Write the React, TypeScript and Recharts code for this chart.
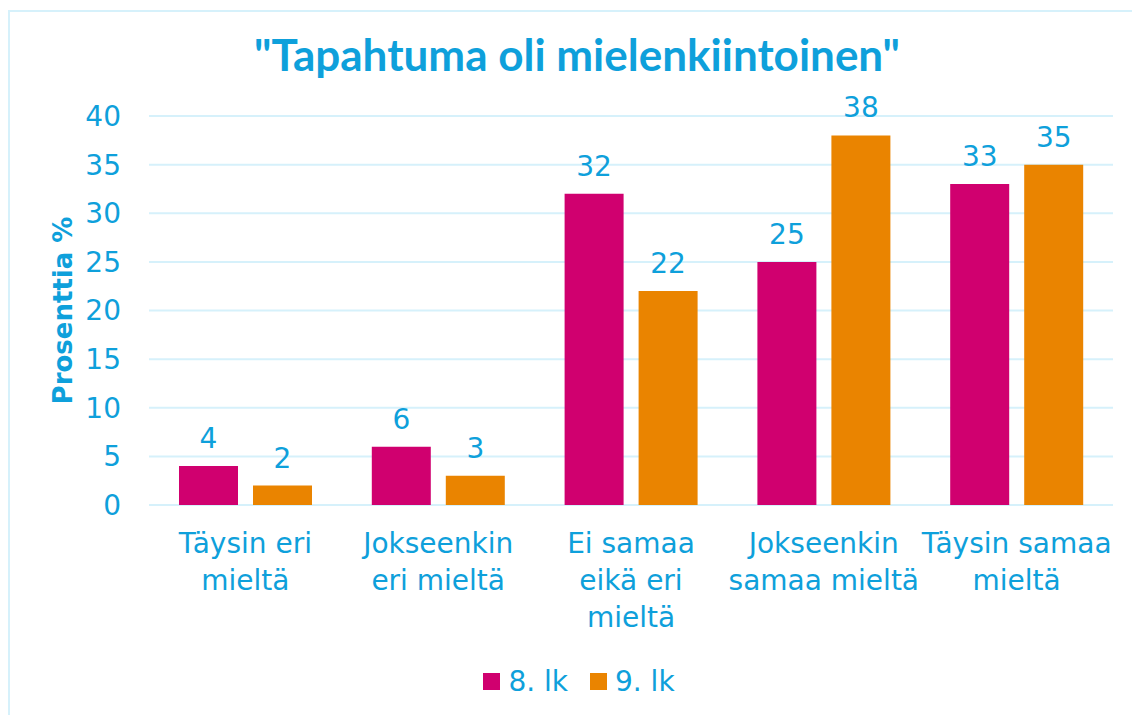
import { BarChart, Bar, XAxis, YAxis, CartesianGrid, Legend, LabelList } from 'recharts';

const categories = [
  'Täysin eri\nmieltä',
  'Jokseenkin\neri mieltä',
  'Ei samaa\neikä eri\nmieltä',
  'Jokseenkin\nsamaa mieltä',
  'Täysin samaa\nmieltä',
];
const grade8 = [4, 6, 32, 25, 33];
const grade9 = [2, 3, 22, 38, 35];
const seriesNames = ['8. lk', '9. lk'];
const yTicks = [0, 5, 10, 15, 20, 25, 30, 35, 40];

const BLUE = '#0EA0DB';
const MAGENTA = '#D0006F';
const ORANGE = '#EA8400';
const GRID = '#D6F1FB';
const FONT = '"DejaVu Sans", sans-serif';

const data = categories.map((name, i) => ({ name, g8: grade8[i], g9: grade9[i] }));

function CategoryTick({ x, y, payload }: any) {
  const lines = String(payload.value).split('\n');
  return (
    <text x={x} y={y} textAnchor="middle" fill={BLUE} fontSize={28} fontFamily={FONT}>
      {lines.map((line, i) => (
        <tspan key={i} x={x} dy={i === 0 ? 42 : 37}>
          {line}
        </tspan>
      ))}
    </text>
  );
}

function AxisTitle({ viewBox }: any) {
  const cx = (viewBox?.x ?? 0) + 63;
  const cy = (viewBox?.y ?? 116) + (viewBox?.height ?? 389) / 2;
  return (
    <text
      x={cx}
      y={cy}
      transform={`rotate(-90, ${cx}, ${cy})`}
      textAnchor="middle"
      dominantBaseline="central"
      fill={BLUE}
      fontSize={26}
      fontWeight="bold"
      fontFamily={FONT}
    >
      Prosenttia %
    </text>
  );
}

function LegendContent() {
  const colors = [MAGENTA, ORANGE];
  return (
    <div
      style={{
        display: 'flex',
        justifyContent: 'center',
        alignItems: 'center',
        height: 52,
        paddingLeft: 26,
        fontFamily: FONT,
        fontSize: 28,
        color: BLUE,
      }}
    >
      {seriesNames.map((s, i) => (
        <div key={s} style={{ display: 'flex', alignItems: 'center', marginLeft: i ? 22 : 0 }}>
          <span style={{ width: 17, height: 17, background: colors[i], marginRight: 8 }} />
          <span>{s}</span>
        </div>
      ))}
    </div>
  );
}

export default function App() {
  return (
    <div style={{ position: 'fixed', left: 0, top: 0, width: 1132, height: 715, background: '#fff', overflow: 'hidden' }}>
      <div
        style={{
          position: 'absolute',
          left: 8,
          top: 10,
          width: 1140,
          height: 720,
          border: `2px solid ${GRID}`,
          boxSizing: 'border-box',
        }}
      />
      <div
        style={{
          position: 'absolute',
          left: 577,
          top: 32,
          transform: 'translateX(-50%)',
          whiteSpace: 'nowrap',
          fontFamily: 'Lato, sans-serif',
          fontWeight: 'bold',
          fontSize: 44,
          lineHeight: '44px',
          color: BLUE,
        }}
      >
        "Tapahtuma oli mielenkiintoinen"
      </div>
      <BarChart
        width={1132}
        height={715}
        data={data}
        margin={{ top: 116, right: 19, left: 0, bottom: 0 }}
        barSize={59}
        barGap={15}
      >
        <CartesianGrid vertical={false} stroke={GRID} strokeWidth={2} />
        <XAxis
          dataKey="name"
          axisLine={false}
          tickLine={false}
          tickMargin={0}
          height={150}
          interval={0}
          tick={<CategoryTick />}
        />
        <YAxis
          width={149}
          domain={[0, 40]}
          ticks={yTicks}
          axisLine={false}
          tickLine={false}
          tickMargin={22}
          tick={{ fill: BLUE, fontSize: 28, fontFamily: FONT }}
          label={<AxisTitle />}
        />
        <Legend
          verticalAlign="bottom"
          height={60}
          wrapperStyle={{ left: 0, width: 1132 }}
          content={<LegendContent />}
        />
        <Bar dataKey="g8" name={seriesNames[0]} fill={MAGENTA} isAnimationActive={false}>
          <LabelList dataKey="g8" position="top" offset={18} fill={BLUE} fontSize={28} fontFamily={FONT} />
        </Bar>
        <Bar dataKey="g9" name={seriesNames[1]} fill={ORANGE} isAnimationActive={false}>
          <LabelList dataKey="g9" position="top" offset={18} fill={BLUE} fontSize={28} fontFamily={FONT} />
        </Bar>
      </BarChart>
    </div>
  );
}
